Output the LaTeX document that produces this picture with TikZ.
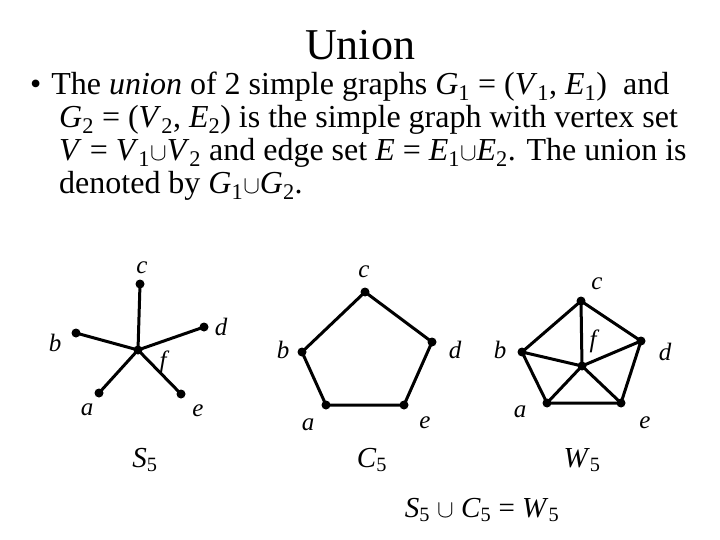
\documentclass[tikz,border=0pt]{standalone}
\usepackage{fontspec}
\setmainfont{Liberation Serif}
\begin{document}
\begin{tikzpicture}[x=1pt,y=-1pt,
  v/.style={circle,fill,inner sep=0pt,minimum size=9pt},
  e/.style={line width=3pt},
  lab/.style={font=\fontsize{25}{27}\selectfont\itshape,inner sep=0pt},
  gcap/.style={font=\fontsize{29}{31}\selectfont,inner sep=0pt}]
\useasboundingbox (0,0) rectangle (720,540);
\node[font=\fontsize{44}{48}\selectfont] (title) at (360,45) {Union};
\node[anchor=north west,inner sep=0pt,align=left,font=\fontsize{32}{33}\selectfont] (txt) at (30,72)
 {•\hspace{10pt}The \textit{union} of 2 simple graphs \textit{G}\textsubscript{1} = (\textit{V}\textsubscript{1}, \textit{E}\textsubscript{1})\ \ and\\
 \hspace{29pt}\textit{G}\textsubscript{2} = (\textit{V}\textsubscript{2}, \textit{E}\textsubscript{2}) is the simple graph with vertex set\\
 \hspace{29pt}\textit{V} = \textit{V}\textsubscript{1}$\cup$\textit{V}\textsubscript{2} and edge set \textit{E} = \textit{E}\textsubscript{1}$\cup$\textit{E}\textsubscript{2}. The union is\\
 \hspace{29pt}denoted by \textit{G}\textsubscript{1}$\cup$\textit{G}\textsubscript{2}.};
% S5
\node[v] (sc) at (140,284) {}; \node[v] (sb) at (76,333) {}; \node[v] (sd) at (204,327) {};
\node[v] (sf) at (138,350) {}; \node[v] (sa) at (99,393) {}; \node[v] (se) at (181,394) {};
\foreach \x in {sc,sb,sd,sa,se} \draw[e] (sf.center) -- (\x.center);
\node[lab] (lsc) at (142,268) {c}; \node[lab] (lsb) at (55,343) {b}; \node[lab] (lsd) at (221,327) {d};
\node[lab] (lsf) at (163,362) {f}; \node[lab] (lsa) at (87,410) {a}; \node[lab] (lse) at (198,411) {e};
\node[gcap] (s5) at (145,460) {\textit{S}\textsubscript{5}};
% C5
\node[v] (cc) at (365,292) {}; \node[v] (cb) at (302,352) {}; \node[v] (cd) at (432,342) {};
\node[v] (ca) at (326,405) {}; \node[v] (ce) at (404,405) {};
\draw[e] (cc.center) -- (cb.center) -- (ca.center) -- (ce.center) -- (cd.center) -- (cc.center);
\node[lab] (lcc) at (364,272) {c}; \node[lab] (lcb) at (283,350) {b}; \node[lab] (lcd) at (455,350) {d};
\node[lab] (lca) at (308,425) {a}; \node[lab] (lce) at (425,423) {e};
\node[gcap] (c5) at (372,460) {\textit{C}\textsubscript{5}};
% W5
\node[v] (wc) at (581,301) {}; \node[v] (wb) at (522,352) {}; \node[v] (wd) at (641,341) {};
\node[v] (wf) at (582,366) {}; \node[v] (wa) at (547,403) {}; \node[v] (we) at (621,403) {};
\draw[e] (wc.center) -- (wb.center) -- (wa.center) -- (we.center) -- (wd.center) -- (wc.center);
\foreach \x in {wc,wb,wd,wa,we} \draw[e] (wf.center) -- (\x.center);
\node[lab] (lwc) at (597,284) {c}; \node[lab] (lwb) at (500,350) {b}; \node[lab] (lwf) at (593,341) {f};
\node[lab] (lwd) at (665,352) {d}; \node[lab] (lwa) at (520,412) {a}; \node[lab] (lwe) at (645,423) {e};
\node[gcap] (w5) at (582,460) {\textit{W}\textsubscript{5}};
\node[gcap] (eq) at (482,510) {\textit{S}\textsubscript{5} $\cup$ \textit{C}\textsubscript{5} = \textit{W}\textsubscript{5}};
\end{tikzpicture}
\end{document}
